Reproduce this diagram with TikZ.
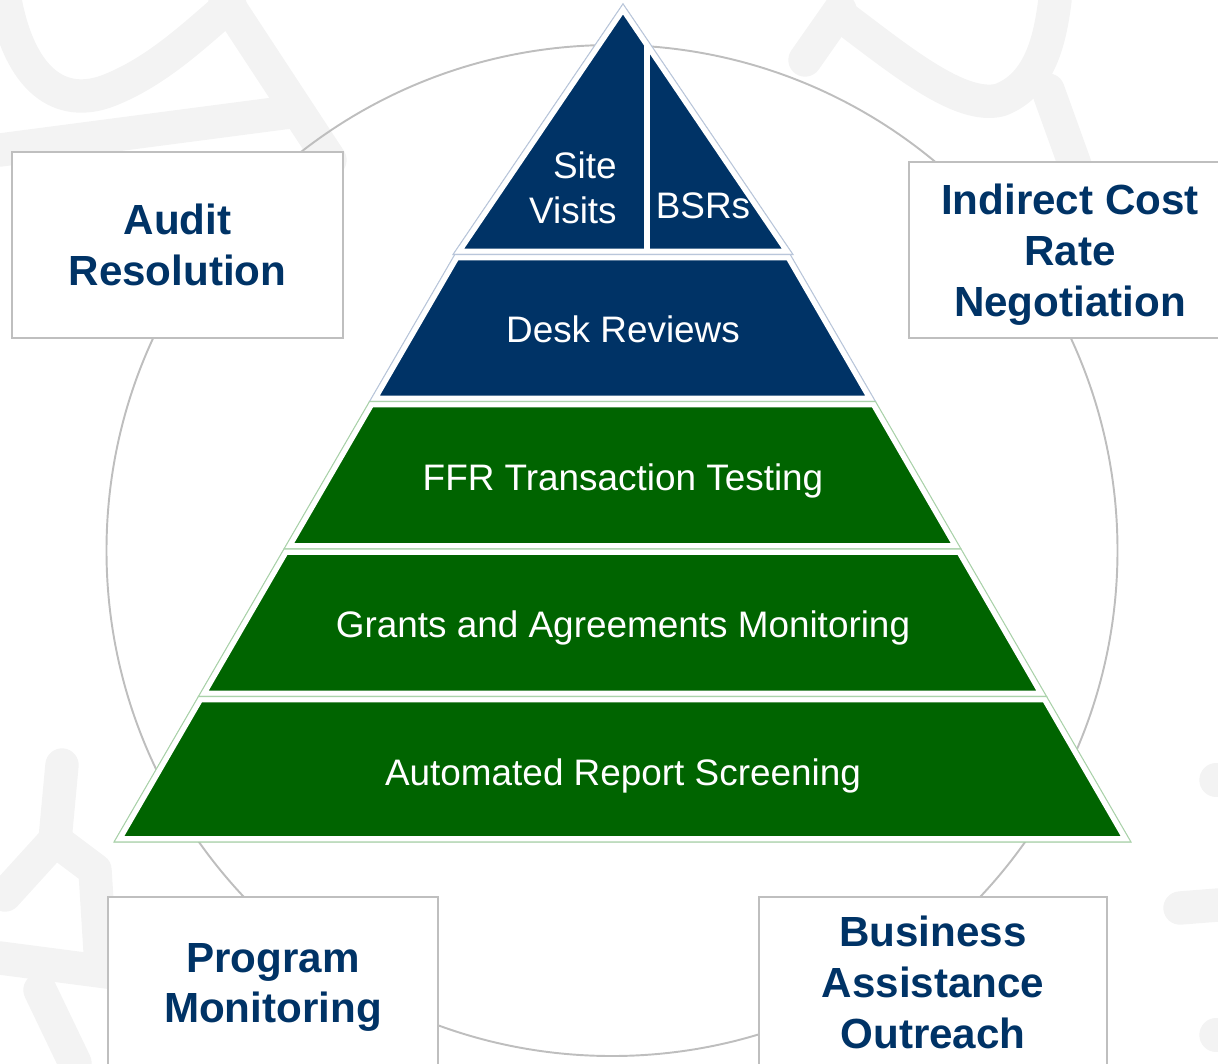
\documentclass[tikz,border=0pt]{standalone}
\usepackage{fontspec}
\setmainfont{Liberation Sans}
\usetikzlibrary{positioning}
\definecolor{navy}{RGB}{0,51,102}
\definecolor{leaf}{RGB}{0,100,0}
\definecolor{navyedge}{RGB}{185,198,218}
\definecolor{leafedge}{RGB}{170,210,170}
\definecolor{ringgray}{RGB}{190,190,190}
\definecolor{boxgray}{RGB}{191,191,191}
\definecolor{markgray}{RGB}{243,243,243}
\tikzset{
    layer/.style={fill=#1, draw=white, line width=6.8pt, line join=miter},
    layeredge/.style={draw=#1, line width=0.6pt},
    layertext/.style={text=white, inner sep=0pt, font=\fontsize{21}{26}\selectfont},
    sidebox/.style={draw=boxgray, line width=1.1pt, fill=white, text=navy, align=center,
        inner sep=0pt, text depth=0pt, font=\fontsize{24}{29}\selectfont\bfseries},
    wmark/.style={draw=markgray, line width=19pt, line cap=round, line join=round}
}

\begin{document}
\begin{tikzpicture}[x=0.02cm, y=-0.02cm]
    \useasboundingbox (0,0) rectangle (1218,1063);
    \clip (0,0) rectangle (1218,1063);
    % faint seal in the background
    \draw[wmark] (5,0) .. controls (20,80) and (60,110) .. (110,90) .. controls (160,70) and (200,30) .. (230,5);
    \draw[wmark] (225,0) -- (330,160);
    \draw[wmark] (0,150) -- (290,112);
    \draw[wmark] (805,60) -- (840,10);
    \draw[wmark] (840,15) .. controls (900,60) and (960,110) .. (1000,100) .. controls (1040,85) and (1050,40) .. (1055,0);
    \draw[wmark] (1048,90) -- (1075,165);
    \draw[wmark] (62,765) -- (55,840) -- (5,895);
    \draw[wmark] (55,840) -- (95,870) -- (100,950);
    \draw[wmark] (0,958) -- (130,975);
    \draw[wmark] (40,990) -- (75,1063);
    \draw[wmark] (1180,908) -- (1218,905);
    \draw[wmark] (1216,780) -- (1218,780);
    \draw[wmark] (1216,1035) -- (1218,1035);
    % ring
    \draw[ringgray, line width=1.1pt] (612,550.5) circle [radius=505.5];
    % top of the pyramid
    \coordinate (apex) at (623,3.8);
    \coordinate (top-sw) at (453,254.5);
    \coordinate (top-se) at (793,254.5);
    \begin{scope}
        \clip (apex) -- (top-sw) -- (top-se) -- cycle;
        \draw[layer=navy] (apex) -- (top-sw) -- (top-se) -- cycle;
        \draw[white, line width=3.4pt] (647,0) -- (647,254.5);
    \end{scope}
    \draw[layeredge=navyedge] (apex) -- (top-sw) -- (top-se) -- cycle;
    % lower layers
    \foreach \n/\ya/\yb/\c in {desk/254.5/401.5/navy, ffr/401.5/549/leaf, gam/549/696.5/leaf, ars/696.5/842/leaf}{
        \coordinate (\n-nw) at ({114+0.58*(842-\ya)},\ya);
        \coordinate (\n-ne) at ({1131-0.58*(842-\ya)},\ya);
        \coordinate (\n-sw) at ({114+0.58*(842-\yb)},\yb);
        \coordinate (\n-se) at ({1131-0.58*(842-\yb)},\yb);
        \begin{scope}
            \clip (\n-nw) -- (\n-sw) -- (\n-se) -- (\n-ne) -- cycle;
            \draw[layer=\c] (\n-nw) -- (\n-sw) -- (\n-se) -- (\n-ne) -- cycle;
        \end{scope}
        \draw[layeredge=\c edge] (\n-nw) -- (\n-sw) -- (\n-se) -- (\n-ne) -- cycle;
    }
    % layer texts
    \node[layertext, align=right, anchor=north east] (site) at (617,151) {Site\\Visits};
    \node[layertext, anchor=base] (bsr) at (703,218) {BSRs};
    \node[layertext, anchor=base] (desk-t) at (623,342) {Desk Reviews};
    \node[layertext, anchor=base] (ffr-t) at (623,490) {FFR Transaction Testing};
    \node[layertext, anchor=base] (gam-t) at (623,637) {Grants and Agreements Monitoring};
    \node[layertext, anchor=base] (ars-t) at (623,785) {Automated Report Screening};
    % boxes round the ring
    \node[sidebox, minimum width=6.62cm, minimum height=3.72cm] (audit) at (177.5,245) {Audit\\Resolution};
    \node[sidebox, minimum width=6.44cm, minimum height=3.52cm] (icr) at (1070,250) {Indirect Cost\\Rate\\Negotiation};
    \node[sidebox, minimum width=6.6cm, minimum height=3.44cm] (prog) at (273,983) {Program\\Monitoring};
    \node[sidebox, minimum width=6.96cm, minimum height=3.42cm] (bao) at (933,982.5) {Business\\Assistance\\Outreach};
\end{tikzpicture}
\end{document}
